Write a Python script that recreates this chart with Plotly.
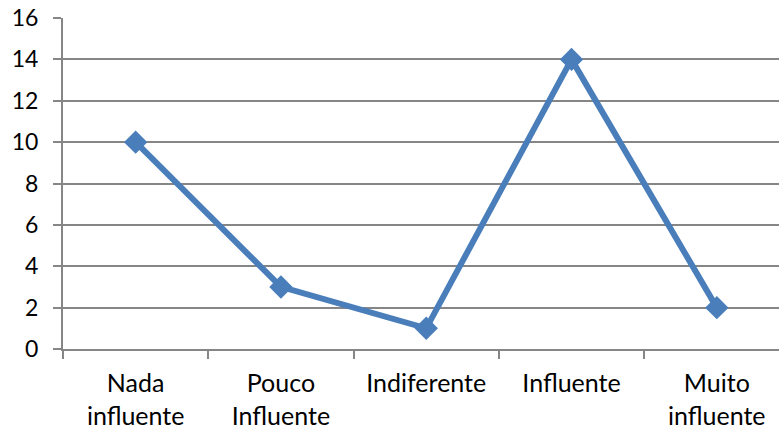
import plotly.graph_objects as go

categories = ["Nada<br>influente", "Pouco<br>Influente", "Indiferente", "Influente", "Muito<br>influente"]
values = [10, 3, 1, 14, 2]
y_ticks = [0, 2, 4, 6, 8, 10, 12, 14, 16]

line_color = "#4a7ebb"
grid_color = "#868686"
font_family = "Lato, Carlito, Calibri, sans-serif"

fig = go.Figure()
fig.add_trace(go.Scatter(
    x=categories,
    y=values,
    mode="lines+markers",
    line=dict(color=line_color, width=6),
    marker=dict(symbol="diamond", size=18, color=line_color),
    showlegend=False,
    cliponaxis=False,
))

fig.update_layout(
    width=779, height=430,
    margin=dict(l=63, r=0, t=18, b=81),
    paper_bgcolor="white", plot_bgcolor="white",
    font=dict(family=font_family, size=22, color="#000000"),
)
fig.update_xaxes(
    type="category",
    categoryorder="array", categoryarray=categories,
    range=[-0.5, 4.428],
    showgrid=False,
    ticks="outside", ticklen=8, tickwidth=2, tickcolor=grid_color,
    tickson="boundaries",
    showline=True, linecolor=grid_color, linewidth=2,
    zeroline=False,
    tickfont=dict(size=25),
    ticklabelstandoff=11,
)
fig.update_yaxes(
    range=[0, 16],
    tickmode="array", tickvals=y_ticks,
    showgrid=True, gridcolor=grid_color, gridwidth=2,
    ticks="outside", ticklen=8, tickwidth=2, tickcolor=grid_color,
    showline=True, linecolor=grid_color, linewidth=2,
    zeroline=False,
    tickfont=dict(size=23),
    ticklabelstandoff=10,
)

fig.write_html("out.html")
